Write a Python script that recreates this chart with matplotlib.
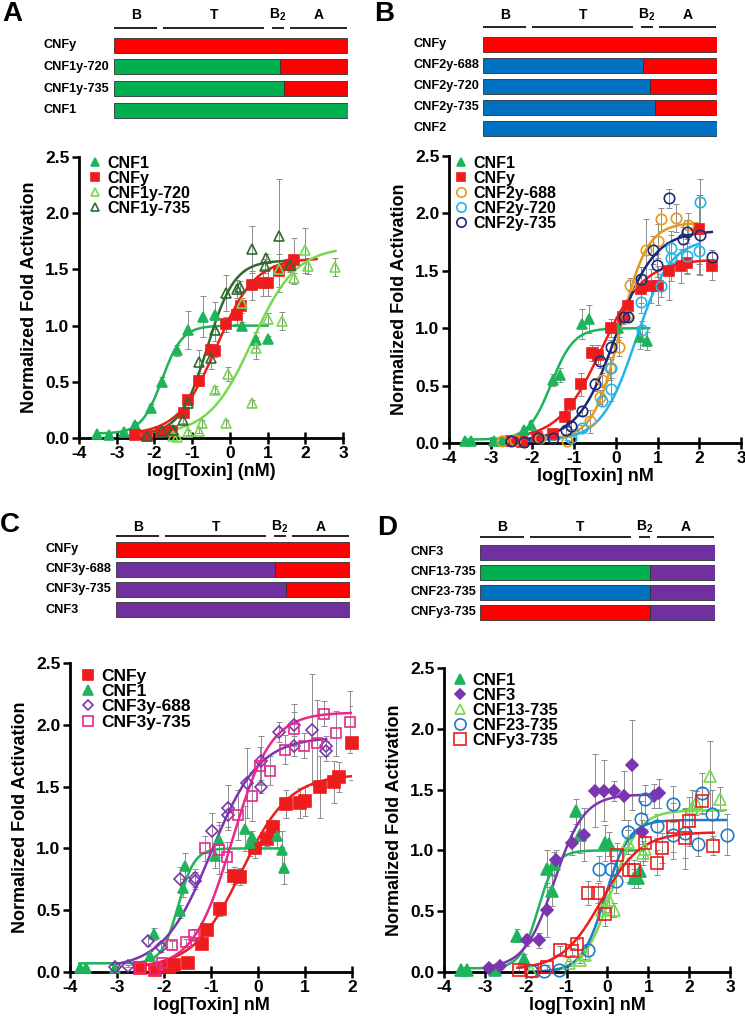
import numpy as np
import matplotlib.pyplot as plt
from matplotlib.lines import Line2D
from matplotlib.transforms import blended_transform_factory

plt.rcParams['font.family'] = ['Liberation Sans', 'DejaVu Sans']
plt.rcParams['font.weight'] = 'bold'
plt.rcParams['axes.labelweight'] = 'bold'
plt.rcParams['axes.unicode_minus'] = False
plt.rcParams['mathtext.fontset'] = 'custom'
plt.rcParams['mathtext.rm'] = 'Liberation Sans:bold'
plt.rcParams['mathtext.bf'] = 'Liberation Sans:bold'

# ---------------- domain diagrams ----------------
protein_len = 1014
domain_names = ["B", "T", "B$_2$", "A"]
domain_start = [0, 214, 685, 763]
domain_end = [188, 650, 735, 1010]

RED, GREEN, BLUE, PURPLE = "#FF0000", "#00B050", "#0070C0", "#7030A0"

diag_a_names = ["CNFy", "CNF1y-720", "CNF1y-735", "CNF1"]
diag_a_left = [RED, GREEN, GREEN, GREEN]
diag_a_right = [RED, RED, RED, GREEN]
diag_a_split = [1014, 720, 735, 1014]

diag_b_names = ["CNFy", "CNF2y-688", "CNF2y-720", "CNF2y-735", "CNF2"]
diag_b_left = [RED, BLUE, BLUE, BLUE, BLUE]
diag_b_right = [RED, RED, RED, RED, BLUE]
diag_b_split = [1014, 695, 722, 745, 1014]

diag_c_names = ["CNFy", "CNF3y-688", "CNF3y-735", "CNF3"]
diag_c_left = [RED, PURPLE, PURPLE, PURPLE]
diag_c_right = [RED, RED, RED, PURPLE]
diag_c_split = [1014, 688, 735, 1014]

diag_d_names = ["CNF3", "CNF13-735", "CNF23-735", "CNFy3-735"]
diag_d_left = [PURPLE, GREEN, BLUE, RED]
diag_d_right = [PURPLE, PURPLE, PURPLE, PURPLE]
diag_d_split = [1014, 735, 735, 735]

# ---------------- dose-response data ----------------
# fit = bottom, top, logEC50, hill, x from, x to
# panel A
a_cnf1_x = [-3.51, -3.21, -2.81, -2.52, -2.10, -1.81, -1.41, -1.11, -0.71, -0.40, 0.31, 0.70, 1.01]
a_cnf1_y = [0.035, 0.03, 0.05, 0.12, 0.27, 0.50, 0.78, 0.96, 1.08, 1.09, 1.00, 0.87, 0.88]
a_cnf1_e = [0.01, 0.01, 0.01, 0.02, 0.03, 0.04, 0.05, 0.17, 0.18, 0.12, 0.03, 0.07, 0.03]
a_cnf1_fit = [0.04, 1.0, -1.8, 1.6, -3.5, 1.0]

a_cnfy_x = [-2.51, -2.21, -1.83, -1.53, -1.21, -1.12, -0.81, -0.50, -0.40, -0.09, 0.19, 0.29, 0.60, 0.88, 1.00, 1.30, 1.59, 1.70]
a_cnfy_y = [0.03, 0.015, 0.05, 0.065, 0.22, 0.34, 0.51, 0.78, 0.77, 1.01, 1.09, 1.17, 1.36, 1.38, 1.38, 1.49, 1.54, 1.58]
a_cnfy_e = [0.01, 0.01, 0.02, 0.02, 0.03, 0.04, 0.05, 0.06, 0.05, 0.07, 0.08, 0.06, 0.13, 0.12, 0.12, 0.15, 0.05, 0.2]
a_cnfy_fit = [0.03, 1.6, -0.35, 0.85, -2.5, 2.3]

a_720_x = [-1.50, -1.41, -1.12, -0.81, -0.73, -0.40, -0.11, -0.05, 0.31, 0.59, 0.69, 1.01, 1.30, 1.39, 1.69, 1.98, 2.07, 2.80]
a_720_y = [0.015, 0.006, 0.05, 0.065, 0.13, 0.43, 0.13, 0.57, 1.20, 0.31, 0.80, 1.06, 1.50, 1.04, 1.42, 1.67, 1.53, 1.52]
a_720_e = [0.01, 0.01, 0.02, 0.02, 0.03, 0.03, 0.03, 0.06, 0.05, 0.03, 0.1, 0.05, 0.05, 0.08, 0.05, 0.2, 0.07, 0.08]
a_720_fit = [0.03, 1.7, 0.6, 0.75, -1.5, 2.8]

a_735_x = [-2.21, -1.81, -1.52, -1.24, -1.12, -0.81, -0.50, -0.40, -0.11, 0.19, 0.28, 0.59, 0.92, 0.97, 1.29, 1.59]
a_735_y = [0.015, 0.06, 0.07, 0.16, 0.31, 0.68, 0.71, 0.96, 1.29, 1.33, 1.34, 1.68, 1.53, 1.60, 1.80, 1.54]
a_735_e = [0.01, 0.02, 0.02, 0.03, 0.04, 0.1, 0.1, 0.1, 0.16, 0.08, 0.06, 0.21, 0.06, 0.04, 0.5, 0.06]
a_735_fit = [0.03, 1.58, -0.6, 1.2, -2.2, 1.7]

# panel B
b_cnf1_x = [-3.62, -3.48, -2.92, -2.74, -2.20, -2.03, -1.51, -1.35, -0.82, -0.64, 0.04, 0.58, 0.74]
b_cnf1_y = [0.015, 0.015, 0.02, 0.02, 0.11, 0.16, 0.55, 0.59, 1.04, 1.08, 1.00, 0.92, 0.89]
b_cnf1_e = [0.01, 0.01, 0.01, 0.01, 0.03, 0.03, 0.05, 0.06, 0.13, 0.12, 0.1, 0.1, 0.08]
b_cnf1_fit = [0.03, 1.0, -1.55, 1.6, -3.6, 0.8]

b_cnfy_x = [-2.51, -2.24, -1.88, -1.51, -1.23, -1.11, -0.83, -0.56, -0.42, -0.12, 0.16, 0.28, 0.60, 0.84, 1.00, 1.28, 1.56, 1.70, 2.00, 2.30]
b_cnfy_y = [0.02, 0.01, 0.05, 0.08, 0.23, 0.34, 0.51, 0.78, 0.77, 1.00, 1.10, 1.19, 1.34, 1.37, 1.37, 1.50, 1.54, 1.57, 1.86, 1.54]
b_cnfy_e = [0.01, 0.01, 0.02, 0.02, 0.04, 0.05, 0.1, 0.07, 0.08, 0.08, 0.06, 0.05, 0.12, 0.15, 0.17, 0.25, 0.15, 0.1, 0.3, 0.12]
b_cnfy_fit = [0.03, 1.6, -0.35, 0.85, -2.5, 2.35]

b_688_x = [-2.74, -2.42, -1.82, -1.16, -0.62, -0.39, -0.34, -0.14, 0.08, 0.26, 0.34, 0.72, 1.00, 1.08, 1.44, 1.74]
b_688_y = [0.015, 0.03, 0.04, 0.02, 0.19, 0.40, 0.55, 0.65, 0.84, 1.11, 1.38, 1.68, 1.76, 1.95, 1.96, 1.90]
b_688_e = [0.01, 0.01, 0.01, 0.01, 0.1, 0.06, 0.06, 0.1, 0.08, 0.05, 0.06, 0.27, 0.15, 0.1, 0.12, 0.1]
b_688_fit = [0.03, 1.92, 0.1, 1.35, -2.75, 1.95]

b_720_x = [-1.07, -0.80, -0.34, -0.12, -0.12, 0.60, 0.62, 1.08, 1.32, 1.32, 1.70, 2.00, 2.02]
b_720_y = [0.04, 0.13, 0.37, 0.47, 0.65, 1.23, 0.98, 1.37, 1.61, 1.70, 1.63, 1.67, 2.10]
b_720_e = [0.02, 0.03, 0.05, 0.1, 0.08, 0.1, 0.08, 0.1, 0.2, 0.15, 0.15, 0.2, 0.2]
b_720_fit = [0.02, 1.78, 0.48, 1.05, -2.2, 2.0]

b_735_x = [-2.51, -2.20, -1.86, -1.51, -1.19, -1.08, -0.80, -0.51, -0.39, -0.12, 0.20, 0.30, 0.60, 0.90, 0.98, 1.28, 1.62, 1.70, 2.02, 2.30]
b_735_y = [0.015, 0.01, 0.04, 0.04, 0.11, 0.15, 0.28, 0.51, 0.71, 0.84, 1.10, 1.10, 1.43, 1.68, 1.55, 2.13, 1.78, 1.84, 1.81, 1.62]
b_735_e = [0.01, 0.01, 0.01, 0.01, 0.03, 0.03, 0.04, 0.06, 0.06, 0.06, 0.05, 0.05, 0.1, 0.12, 0.1, 0.08, 0.1, 0.1, 0.35, 0.06]
b_735_fit = [0.02, 1.85, 0.0, 0.95, -2.5, 2.3]

# panel C
c_cnfy_x = [-2.51, -2.20, -1.90, -1.78, -1.48, -1.19, -1.09, -0.80, -0.52, -0.39, -0.06, 0.19, 0.32, 0.60, 0.90, 1.01, 1.31, 1.61, 1.72, 2.00]
c_cnfy_y = [0.03, 0.013, 0.04, 0.06, 0.07, 0.23, 0.34, 0.51, 0.78, 0.77, 1.00, 1.08, 1.17, 1.36, 1.37, 1.38, 1.50, 1.54, 1.58, 1.85]
c_cnfy_e = [0.01, 0.01, 0.01, 0.01, 0.02, 0.03, 0.04, 0.06, 0.07, 0.07, 0.08, 0.06, 0.06, 0.11, 0.12, 0.12, 0.25, 0.17, 0.12, 0.3]
c_cnfy_fit = [0.03, 1.6, -0.35, 0.85, -2.5, 2.0]

c_cnf1_x = [-3.79, -3.66, -3.04, -2.30, -2.22, -1.66, -1.60, -1.55, -0.91, -0.84, -0.27, -0.18, -0.13, 0.40, 0.51, 0.56]
c_cnf1_y = [0.03, 0.03, 0.03, 0.13, 0.31, 0.49, 0.68, 0.86, 0.94, 1.07, 1.16, 1.04, 1.09, 1.10, 0.99, 0.84]
c_cnf1_e = [0.01, 0.01, 0.01, 0.04, 0.05, 0.05, 0.07, 0.1, 0.1, 0.14, 0.18, 0.1, 0.05, 0.1, 0.15, 0.13]
c_cnf1_fit = [0.07, 1.0, -1.7, 2.5, -3.8, 0.55]

c_688_x = [-3.04, -2.76, -2.33, -2.07, -1.66, -1.35, -1.35, -0.97, -0.64, -0.64, -0.24, 0.07, 0.07, 0.44, 0.76, 0.76, 1.15, 1.45, 1.45]
c_688_y = [0.04, 0.05, 0.25, 0.20, 0.75, 0.76, 0.74, 1.14, 1.33, 1.27, 1.53, 1.71, 1.50, 1.94, 1.83, 2.00, 1.96, 1.83, 1.79]
c_688_e = [0.01, 0.01, 0.04, 0.04, 0.1, 0.07, 0.07, 0.15, 0.18, 0.1, 0.28, 0.2, 0.05, 0.08, 0.08, 0.17, 0.45, 0.08, 0.08]
c_688_fit = [0.03, 1.9, -1.0, 0.85, -3.1, 1.45]

c_735_x = [-2.51, -2.20, -2.05, -1.83, -1.53, -1.37, -1.12, -0.84, -0.66, -0.43, -0.13, 0.05, 0.26, 0.57, 0.76, 0.97, 1.26, 1.40, 1.67, 1.95]
c_735_y = [0.03, 0.013, 0.07, 0.22, 0.24, 0.30, 1.00, 0.99, 0.93, 1.27, 1.42, 1.67, 1.63, 1.80, 1.97, 1.83, 1.85, 2.09, 1.93, 2.02]
c_735_e = [0.01, 0.01, 0.02, 0.03, 0.03, 0.05, 0.1, 0.2, 0.12, 0.2, 0.2, 0.15, 0.12, 0.12, 0.13, 0.1, 0.35, 0.1, 0.18, 0.25]
c_735_fit = [0.03, 2.1, -0.55, 1.05, -2.6, 2.0]

# panel D
d_cnf1_x = [-3.59, -3.43, -2.74, -2.21, -2.05, -1.48, -1.36, -1.31, -0.77, -0.66, -0.05, 0.03, 0.64, 0.76, 0.80]
d_cnf1_y = [0.02, 0.02, 0.02, 0.30, 0.11, 0.85, 0.67, 0.89, 1.32, 1.13, 1.06, 1.05, 0.77, 0.77, 0.83]
d_cnf1_e = [0.01, 0.01, 0.01, 0.05, 0.04, 0.15, 0.13, 0.1, 0.1, 0.15, 0.15, 0.1, 0.08, 0.08, 0.08]
d_cnf1_fit = [0.03, 1.0, -1.7, 2.0, -3.6, 0.85]

d_cnf3_x = [-2.90, -2.62, -1.97, -1.68, -1.48, -1.27, -0.87, -0.57, -0.30, -0.09, 0.17, 0.41, 0.61, 0.84, 1.13, 1.27]
d_cnf3_y = [0.03, 0.05, 0.26, 0.26, 0.51, 0.92, 1.06, 1.13, 1.49, 1.49, 1.49, 1.45, 1.70, 1.15, 1.45, 1.47]
d_cnf3_e = [0.01, 0.01, 0.05, 0.06, 0.22, 0.08, 0.1, 0.22, 0.3, 0.25, 0.08, 0.2, 0.37, 0.1, 0.1, 0.12]
d_cnf3_fit = [0.03, 1.46, -1.3, 1.2, -2.9, 1.3]

d_13_x = [-1.86, -0.95, -0.66, -0.54, -0.14, 0.03, 0.17, 0.50, 0.86, 0.92, 2.06, 2.18, 2.51, 2.75]
d_13_y = [0.005, 0.07, 0.10, 0.14, 0.51, 0.59, 0.51, 1.07, 0.98, 1.01, 1.35, 1.39, 1.61, 1.42]
d_13_e = [0.01, 0.02, 0.03, 0.03, 0.08, 0.1, 0.06, 0.1, 0.1, 0.1, 0.15, 0.1, 0.29, 0.1]
d_13_fit = [0.0, 1.33, 0.1, 1.3, -2.0, 2.9]

d_23_x = [-1.86, -1.56, -1.19, -0.48, -0.20, 0.09, 0.21, 0.50, 0.83, 0.92, 1.21, 1.61, 1.61, 1.90, 2.21, 2.31, 2.55, 2.92]
d_23_y = [0.005, 0.005, 0.02, 0.18, 0.85, 0.85, 0.75, 1.15, 1.26, 1.42, 1.20, 1.38, 1.13, 1.14, 1.05, 1.47, 1.30, 1.13]
d_23_e = [0.01, 0.01, 0.01, 0.05, 0.1, 0.1, 0.1, 0.1, 0.15, 0.12, 0.1, 0.15, 0.2, 0.2, 0.1, 0.17, 0.2, 0.17]
d_23_fit = [0.0, 1.25, -0.05, 1.5, -2.0, 2.9]

d_y3_x = [-2.17, -1.84, -1.48, -1.15, -0.87, -0.75, -0.48, -0.23, -0.05, 0.24, 0.52, 0.64, 0.92, 1.21, 1.33, 1.61, 1.90, 2.00, 2.31, 2.59]
d_y3_y = [0.02, 0.005, 0.04, 0.18, 0.17, 0.23, 0.65, 0.65, 0.48, 0.96, 0.84, 0.84, 1.06, 0.90, 1.02, 1.19, 1.10, 1.24, 1.41, 1.04]
d_y3_e = [0.01, 0.01, 0.02, 0.03, 0.03, 0.04, 0.1, 0.08, 0.1, 0.1, 0.1, 0.08, 0.12, 0.1, 0.12, 0.2, 0.25, 0.2, 0.1, 0.08]
d_y3_fit = [0.02, 1.15, -0.15, 0.9, -2.2, 2.6]

W, H = 745, 1032
fig = plt.figure(figsize=(7.45, 10.32), dpi=100)


def px_axes(x0, y0, x1, y1):
    return fig.add_axes([x0 / W, 1 - y1 / H, (x1 - x0) / W, (y1 - y0) / H])


def diagram(x0, x1, row0, step, line_y, text_y, label_x, names, left, right, split):
    ytop, ybot = text_y - 12, row0 + step * (len(names) - 1) + 10
    ax = px_axes(x0, ytop, x1, ybot)
    ax.set_xlim(0, protein_len)
    ax.set_ylim(ybot, ytop)
    ax.axis('off')
    rows = [row0 + step * i for i in range(len(names))]
    ax.barh(rows, split, height=15, left=0, color=left, edgecolor='#333333', lw=0.6)
    rest = [protein_len - s for s in split]
    ax.barh(rows, rest, height=15, left=split, color=right, edgecolor='#333333', lw=0.6)
    ax.hlines([line_y] * 4, domain_start, domain_end, color='#222222', lw=1.4)
    for name, s, e in zip(domain_names, domain_start, domain_end):
        ax.text((s + e) / 2, text_y, name, ha='center', va='center', fontsize=10)
    tr = blended_transform_factory(fig.transFigure, ax.transData)
    for r, name in zip(rows, names):
        ax.text(label_x / W, r, name, transform=tr, ha='left', va='center', fontsize=9.2)


def hill(x, p):
    return p[0] + (p[1] - p[0]) / (1 + 10 ** ((p[2] - x) * p[3]))


def dose_panel(box, xmax, series, leg_xy, leg_fs, xlabel):
    ax = px_axes(*box)
    ax.set_xlim(-4, xmax)
    ax.set_ylim(0, 2.5)
    handles, labels = [], []
    for x, y, e, fit, col, mk, filled, ms, lab in series:
        xx = np.linspace(fit[4], fit[5], 300)
        ax.plot(xx, hill(xx, fit), color=col, lw=1.8, zorder=2)
    for x, y, e, fit, col, mk, filled, ms, lab in series:
        ax.errorbar(x, y, yerr=e, fmt='none', ecolor='#8c8c8c', elinewidth=0.7,
                    capsize=2, capthick=0.7, zorder=1)
        face = col if filled else 'none'
        ax.plot(x, y, ls='none', marker=mk, ms=ms, mfc=face, mec=col,
                mew=1.2, zorder=3, clip_on=False)
        handles.append(Line2D([], [], ls='none', marker=mk, ms=ms * 0.9, mfc=face,
                              mec=col, mew=1.2))
        labels.append(lab)
    ax.legend(handles, labels, loc='upper left', frameon=False, fontsize=leg_fs,
              bbox_to_anchor=(leg_xy[0] / W, 1 - leg_xy[1] / H),
              bbox_transform=fig.transFigure, handlelength=0.8,
              handletextpad=0.35, labelspacing=0.0, borderpad=0,
              borderaxespad=0)
    ax.set_xticks(range(-4, xmax + 1))
    ax.set_yticks(np.arange(0, 2.51, 0.5))
    ax.set_yticklabels([f"{v:.1f}" for v in np.arange(0, 2.51, 0.5)])
    for s in ['top', 'right']:
        ax.spines[s].set_visible(False)
    for s in ['left', 'bottom']:
        ax.spines[s].set_linewidth(2)
    ax.tick_params(axis='x', direction='inout', length=8, width=1.8, labelsize=12.5, pad=2)
    ax.tick_params(axis='y', direction='out', length=5, width=1.8, labelsize=12.5, pad=2)
    ax.set_xlabel(xlabel, fontsize=13, labelpad=1)
    ax.set_ylabel("Normalized Fold Activation", fontsize=13, labelpad=5)
    return ax


# diagrams
diagram(114, 348, 45, 21.8, 28, 15, 43, diag_a_names, diag_a_left, diag_a_right, diag_a_split)
diagram(483, 717, 44, 21, 27, 15, 414, diag_b_names, diag_b_left, diag_b_right, diag_b_split)
diagram(116, 350, 549, 20.2, 536, 527, 46, diag_c_names, diag_c_left, diag_c_right, diag_c_split)
diagram(480, 715, 552.5, 20, 537, 527, 411, diag_d_names, diag_d_left, diag_d_right, diag_d_split)

LGREEN, DGREEN = "#77D94F", "#2E6B2E"
ORANGE, CYAN, NAVY, PINK = "#E39B1E", "#22B5EA", "#1B2A7A", "#E8288A"
PURP, DBLUE, RED2, GREEN2 = "#7B35B0", "#1F7BC8", "#EE1C1C", "#1DB45A"

dose_panel((79, 157, 343, 438), 3, [
    (a_cnf1_x, a_cnf1_y, a_cnf1_e, a_cnf1_fit, GREEN2, '^', True, 7, "CNF1"),
    (a_cnfy_x, a_cnfy_y, a_cnfy_e, a_cnfy_fit, RED2, 's', True, 7, "CNFy"),
    (a_720_x, a_720_y, a_720_e, a_720_fit, LGREEN, '^', False, 7, "CNF1y-720"),
    (a_735_x, a_735_y, a_735_e, a_735_fit, DGREEN, '^', False, 7, "CNF1y-735"),
], (89, 156), 11.5, "log[Toxin] (nM)")

dose_panel((449, 156, 741, 443), 3, [
    (b_cnf1_x, b_cnf1_y, b_cnf1_e, b_cnf1_fit, GREEN2, '^', True, 7, "CNF1"),
    (b_cnfy_x, b_cnfy_y, b_cnfy_e, b_cnfy_fit, RED2, 's', True, 7, "CNFy"),
    (b_688_x, b_688_y, b_688_e, b_688_fit, ORANGE, 'o', False, 7.5, "CNF2y-688"),
    (b_720_x, b_720_y, b_720_e, b_720_fit, CYAN, 'o', False, 7.5, "CNF2y-720"),
    (b_735_x, b_735_y, b_735_e, b_735_fit, NAVY, 'o', False, 7.5, "CNF2y-735"),
], (455, 156), 11.5, "log[Toxin] nM")

dose_panel((70, 663, 352, 972), 2, [
    (c_cnfy_x, c_cnfy_y, c_cnfy_e, c_cnfy_fit, RED2, 's', True, 8, "CNFy"),
    (c_cnf1_x, c_cnf1_y, c_cnf1_e, c_cnf1_fit, GREEN2, '^', True, 7.5, "CNF1"),
    (c_688_x, c_688_y, c_688_e, c_688_fit, PURP, 'D', False, 6, "CNF3y-688"),
    (c_735_x, c_735_y, c_735_e, c_735_fit, PINK, 's', False, 7.5, "CNF3y-735"),
], (81, 669), 12.5, "log[Toxin] nM")

dose_panel((444, 668, 730, 972), 3, [
    (d_cnf1_x, d_cnf1_y, d_cnf1_e, d_cnf1_fit, GREEN2, '^', True, 8, "CNF1"),
    (d_cnf3_x, d_cnf3_y, d_cnf3_e, d_cnf3_fit, PURP, 'D', True, 6, "CNF3"),
    (d_13_x, d_13_y, d_13_e, d_13_fit, LGREEN, '^', False, 8.5, "CNF13-735"),
    (d_23_x, d_23_y, d_23_e, d_23_fit, DBLUE, 'o', False, 9, "CNF23-735"),
    (d_y3_x, d_y3_y, d_y3_e, d_y3_fit, RED2, 's', False, 9, "CNFy3-735"),
], (453, 673), 12, "log[Toxin] nM")

# panel letters
for lab, px, py in [("A", 2, 14), ("B", 374, 14), ("C", 0, 525), ("D", 377, 528)]:
    fig.text(px / W, 1 - py / H, lab, fontsize=20, fontweight='bold', va='center', ha='left')

fig.savefig("out.png", dpi=100)
